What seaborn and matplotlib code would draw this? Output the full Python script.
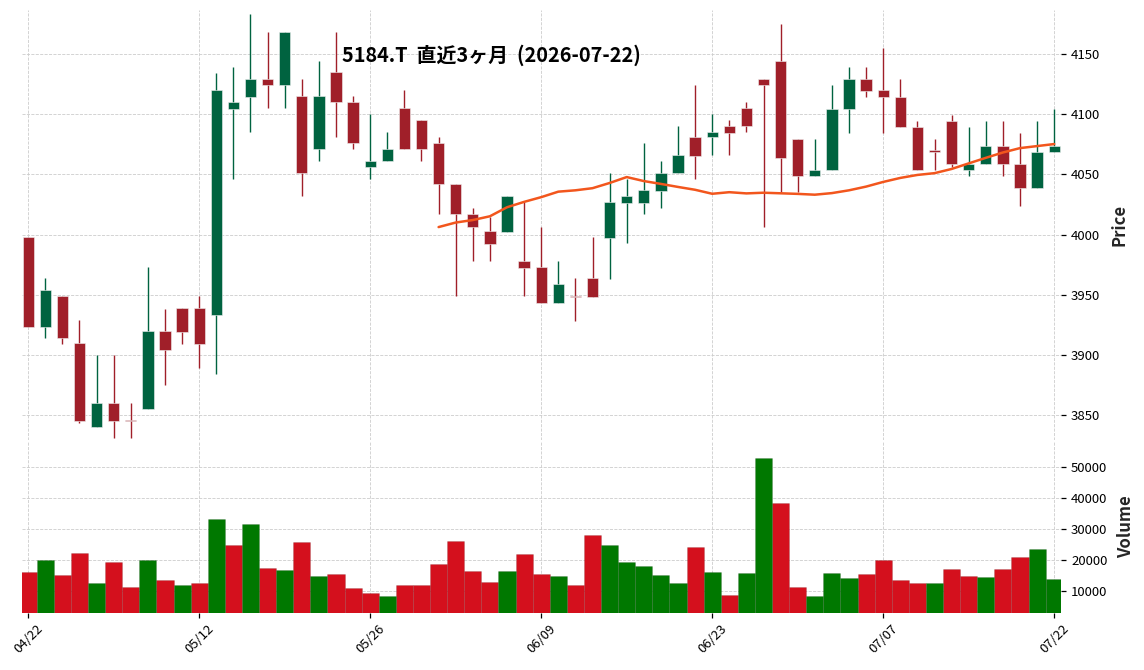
import numpy as np
import pandas as pd
import matplotlib
matplotlib.use("Agg")
import matplotlib.pyplot as plt
import seaborn as sns

# ---------------- data ----------------
title = "5184.T  直近3ヶ月  (2026-07-22)"
tick_labels = ["04/22", "05/12", "05/26", "06/09", "06/23", "07/07", "07/22"]
mav_period = 25

opens = [3998, 3923, 3949, 3910, 3840, 3860, 3846, 3855, 3920, 3939,
         3939, 3933, 4104, 4114, 4129, 4124, 4115, 4071, 4135, 4110,
         4056, 4061, 4105, 4095, 4076, 4042, 4017, 4003, 4002, 3978,
         3973, 3943, 3949, 3964, 3997, 4026, 4026, 4036, 4051, 4081,
         4081, 4090, 4105, 4129, 4144, 4079, 4049, 4054, 4104, 4129,
         4120, 4114, 4089, 4070, 4094, 4054, 4059, 4074, 4059, 4039,
         4069]
highs = [3998, 3964, 3949, 3929, 3900, 3900, 3860, 3973, 3938, 3939,
         3949, 4134, 4139, 4183, 4168, 4168, 4129, 4144, 4168, 4115,
         4100, 4085, 4120, 4095, 4081, 4042, 4022, 4015, 4032, 4027,
         4006, 3978, 3964, 3998, 4051, 4046, 4076, 4061, 4090, 4124,
         4100, 4095, 4110, 4129, 4175, 4079, 4079, 4124, 4139, 4139,
         4155, 4129, 4094, 4079, 4099, 4089, 4094, 4094, 4084, 4094,
         4104]
lows = [3923, 3914, 3909, 3844, 3840, 3831, 3831, 3855, 3875, 3909,
        3889, 3884, 4046, 4085, 4105, 4105, 4032, 4061, 4081, 4071,
        4046, 4061, 4071, 4061, 4017, 3949, 3978, 3978, 4002, 3949,
        3943, 3943, 3928, 3948, 3963, 3993, 4017, 4022, 4051, 4046,
        4066, 4066, 4085, 4006, 4035, 4035, 4049, 4054, 4084, 4114,
        4084, 4089, 4054, 4054, 4056, 4049, 4059, 4049, 4024, 4039,
        4069]
closes = [3923, 3954, 3914, 3845, 3860, 3845, 3845, 3920, 3904, 3919,
          3909, 4120, 4110, 4129, 4124, 4168, 4051, 4115, 4110, 4076,
          4061, 4071, 4071, 4071, 4042, 4017, 4006, 3992, 4032, 3972,
          3943, 3959, 3948, 3948, 4027, 4032, 4037, 4051, 4066, 4065,
          4085, 4084, 4090, 4124, 4064, 4049, 4054, 4104, 4129, 4119,
          4114, 4089, 4054, 4069, 4059, 4059, 4074, 4059, 4039, 4069,
          4074]
volumes = [16000, 19900, 15000, 22100, 12500, 19200, 11200, 19900, 13400, 11800,
           12500, 33100, 24700, 31500, 17300, 16700, 25700, 14700, 15400, 10900,
           9200, 8300, 11800, 11800, 18600, 26000, 16300, 12800, 16300, 21800,
           15400, 14700, 11800, 28000, 24700, 19200, 18000, 15000, 12500, 24100,
           16000, 8600, 15700, 52800, 38300, 11200, 8300, 15700, 14100, 15400,
           19900, 13400, 12500, 12500, 17000, 14700, 14400, 17000, 20900, 23400,
           13800]

# ---------------- derived frame ----------------
df = pd.DataFrame({"open": opens, "high": highs, "low": lows,
                   "close": closes, "volume": volumes})
df["pos"] = np.arange(len(df))
df["mav"] = df["close"].rolling(mav_period).mean()
df["candle_up"] = df["close"] >= df["open"]
prev_close = df["close"].shift(1).fillna(df["open"])
df["vol_dir"] = np.where(df["close"] > prev_close, "up", "down")

# ---------------- style ----------------
sns.set_theme(style="whitegrid")
plt.rcParams["font.family"] = ["Noto Sans CJK JP", "DejaVu Sans"]
plt.rcParams.update({
    "grid.linestyle": "--",
    "grid.color": "#cccccc",
    "grid.linewidth": 0.6,
    "axes.edgecolor": "white",
    "axes.facecolor": "white",
})

candle_up_col = "#006340"
candle_dn_col = "#a01f29"
vol_up_col = "#007800"
vol_dn_col = "#d4101d"
mav_col = "#f2561d"

fig = plt.figure(figsize=(11.44, 6.70), dpi=100)
W, H = 1144, 670
left, right = 21.7 / W, 1060.7 / W
axp = fig.add_axes([left, 1 - 440 / H, right - left, (440 - 10) / H])
axv = fig.add_axes([left, 1 - 612.7 / H, right - left, (612.7 - 441.5) / H])

# ---------------- candles ----------------
ccols = np.where(df["candle_up"], candle_up_col, candle_dn_col)
axp.vlines(df["pos"], df["low"], df["high"], colors=ccols, linewidth=1.0, zorder=2)
body_low = np.minimum(df["open"], df["close"])
body_h = np.maximum(np.abs(df["close"] - df["open"]), 0.6)
axp.bar(df["pos"], body_h, bottom=body_low, width=0.66, color=ccols,
        edgecolor="#f0f0f0", linewidth=0.4, zorder=3)
sns.lineplot(data=df, x="pos", y="mav", ax=axp, color=mav_col,
             linewidth=1.8, zorder=4)

# ---------------- volume ----------------
sns.barplot(data=df, x="pos", y="volume", hue="vol_dir",
            palette={"up": vol_up_col, "down": vol_dn_col},
            native_scale=True, width=1.0, dodge=False, saturation=1,
            legend=False, ax=axv, edgecolor=(0, 0, 0, 0.12), linewidth=0.6)

# ---------------- axes ----------------
n = len(df)
xlim = (-0.38, n - 1 + 0.38)
tick_pos = np.arange(0, n, 10)
for ax in (axp, axv):
    ax.set_xlim(*xlim)
    ax.set_xticks(tick_pos)
    ax.set_axisbelow(True)
    ax.grid(True, which="major", axis="both")
    for s in ax.spines.values():
        s.set_visible(False)
    ax.yaxis.tick_right()
    ax.yaxis.set_label_position("right")
    ax.tick_params(axis="y", which="both", right=True, left=False,
                   length=3.5, width=0.9, color="black", pad=4,
                   labelsize=9.5, labelcolor="black")

axp.set_ylim(min(lows) - 1.5, max(highs) + 3.5)
axp.set_yticks(np.arange(3850, 4151, 50))
axp.tick_params(axis="x", bottom=False, labelbottom=False)
axp.set_xlabel("")
axp.set_ylabel("Price", fontsize=12, fontweight="bold", labelpad=7)

axv.set_ylim(2900, 1.1 * max(volumes))
axv.set_yticks(np.arange(10000, 50001, 10000))
axv.set_xticklabels(tick_labels, rotation=45, ha="center")
axv.tick_params(axis="x", bottom=True, length=3.5, width=0.9, color="black",
                labelsize=9.5, pad=3, labelcolor="black")
axv.set_xlabel("")
axv.set_ylabel("Volume", fontsize=12, fontweight="bold", labelpad=7)

fig.text(491 / W, 1 - 55 / H, title, ha="center", va="center",
         fontsize=14.3, fontweight="bold", color="black")

fig.savefig("out.png", dpi=100)
